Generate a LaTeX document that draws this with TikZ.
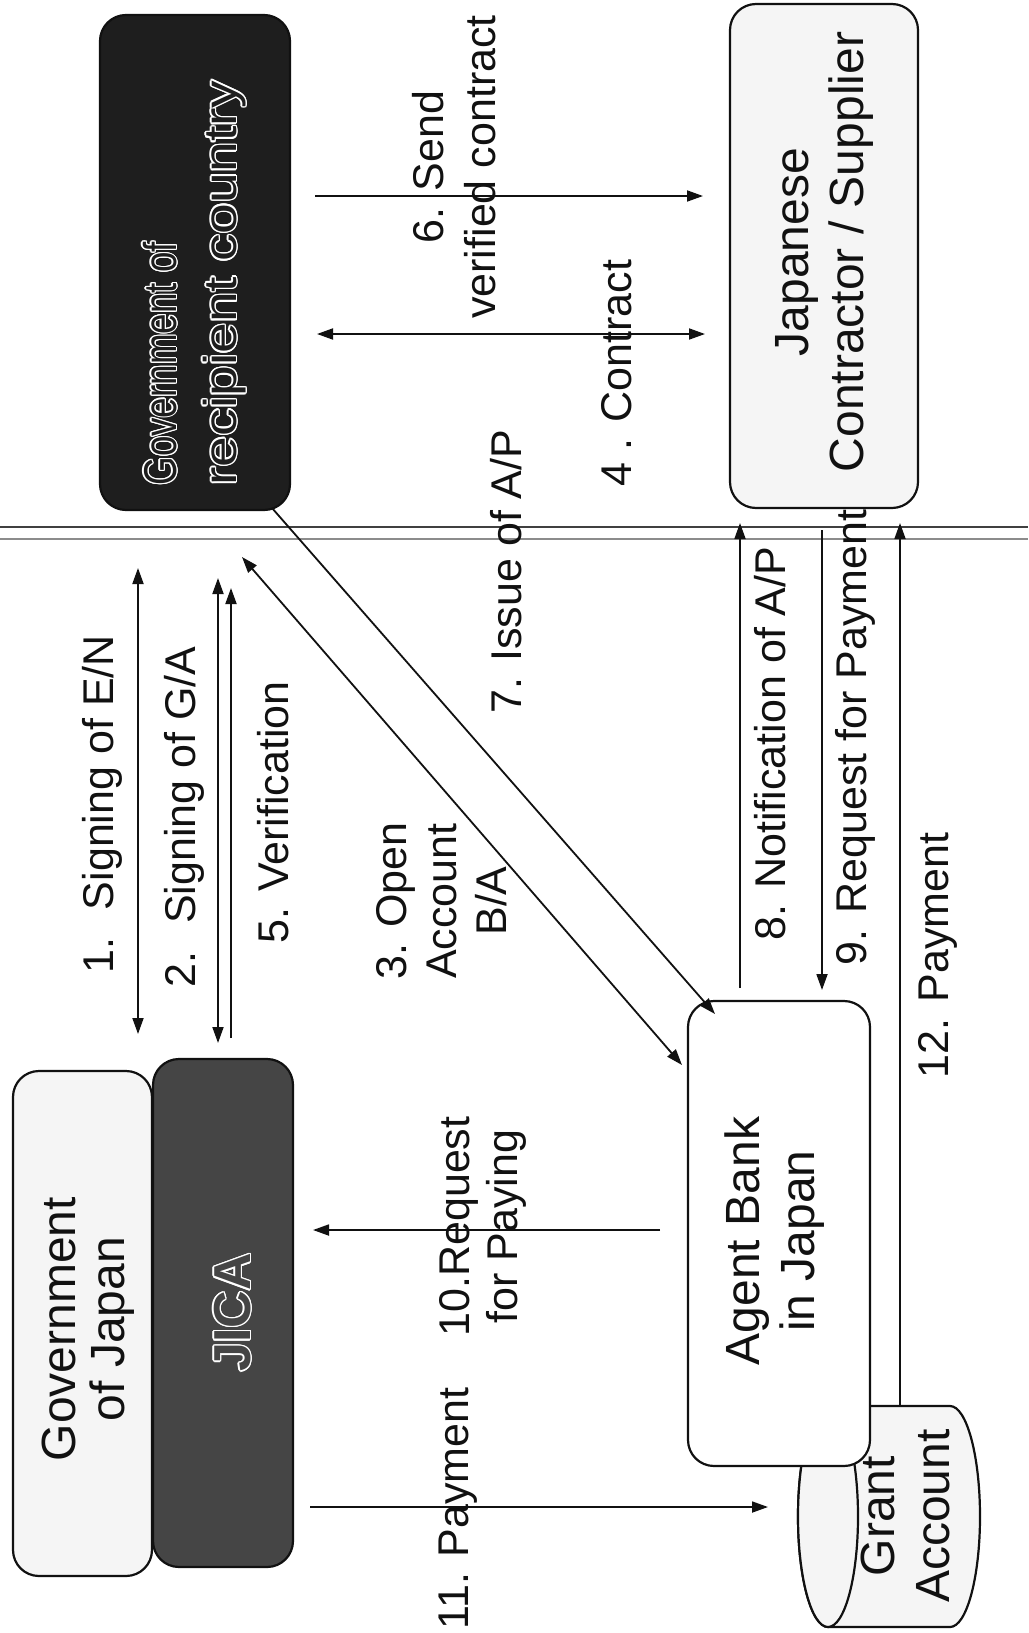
\documentclass[tikz,border=0pt]{standalone}
\usepackage{fontspec}
\setmainfont{Liberation Sans}
\usepackage{graphicx}
\usepackage{contour}
\contourlength{1.3pt}
\usetikzlibrary{arrows.meta}
\definecolor{govfill}{HTML}{1E1E1E}
\definecolor{jicafill}{HTML}{454545}
\definecolor{lightfill}{HTML}{F5F5F5}
\definecolor{inkc}{HTML}{111111}
\begin{document}
\begin{tikzpicture}[x=1pt,y=-1pt,
  lbl/.style={rotate=90, inner sep=0pt, align=center, text=inkc, font=\fontsize{43}{50}\selectfont},
  boxtxt/.style={rotate=90, inner sep=0pt, align=center, text=inkc, font=\fontsize{48}{55}\selectfont},
  rbox/.style={draw=inkc, line width=2.2pt, rounded corners=26pt, inner sep=0pt},
  cyl/.style={draw=inkc, line width=2.2pt, fill=lightfill},
  arr/.style={draw=inkc, line width=1.8pt, -{Triangle[length=16pt,width=11pt]}},
  darr/.style={draw=inkc, line width=1.8pt, {Triangle[length=16pt,width=11pt]}-{Triangle[length=16pt,width=11pt]}},
  sepa/.style={draw=black!75, line width=1.6pt},
  sepb/.style={draw=black!45, line width=1.2pt}
]
\useasboundingbox (0,0) rectangle (1028,1633);
\fill[white] (0,0) rectangle (1028,1633);

% separator lines
\draw[sepa] (0,527) -- (1028,527);
\draw[sepb] (0,539) -- (1028,539);

% boxes
\node[rbox, fill=govfill, minimum width=190pt, minimum height=495pt] (govR) at (195,262.5) {};
\node[rbox, fill=lightfill, minimum width=188pt, minimum height=504pt] (jpc) at (824,256) {};
\node[rbox, fill=lightfill, minimum width=139pt, minimum height=505pt] (gj) at (82.5,1323.5) {};
\node[rbox, fill=jicafill, minimum width=140pt, minimum height=508pt] (jica) at (223,1313) {};

% grant account cylinder
\path[cyl] (828,1406) -- (950,1406)
  arc[start angle=-90, end angle=90, x radius=30, y radius=110.5]
  -- (828,1627)
  arc[start angle=90, end angle=270, x radius=30, y radius=110.5] -- cycle;
\draw[cyl] (828,1516.5) ellipse [x radius=30, y radius=110.5];

\node[rbox, fill=white, minimum width=182pt, minimum height=465pt] (bank) at (779,1233.5) {};

% box texts
\node[rotate=90, inner sep=0pt, align=left, font=\fontsize{46}{60}\selectfont] (govRt) at (195,283)
  {\scalebox{0.8}[1]{\contour{white}{\textcolor{govfill}{Government of}}}\\
   \scalebox{1.2}[1]{\contour{white}{\textcolor{govfill}{recipient country}}}};
\node[boxtxt] (jpct) at (824,252) {Japanese\\Contractor / Supplier};
\node[boxtxt, font=\fontsize{48}{49}\selectfont] (gjt) at (88,1329) {Government\\of Japan};
\node[rotate=90, inner sep=0pt, font=\bfseries\fontsize{52}{55}\selectfont] (jicat) at (233,1312.5)
  {\contour{white}{\textcolor{jicafill}{JICA}}};
\node[boxtxt] (bankt) at (775,1241) {Agent Bank\\in Japan};
\node[boxtxt] (grantt) at (905,1516) {Grant\\Account};

% labels
\node[lbl] (l1) at (102.5,804.5) {1.~ Signing of E/N};
\node[lbl] (l2) at (184,817) {2.~ Signing of G/A};
\node[lbl] (l5) at (273.5,812.5) {5. Verification};
\node[lbl] (l3) at (441.5,901) {3. Open\\Account\\B/A};
\node[lbl] (l7) at (506,571.5) {7. Issue of A/P};
\node[lbl, font=\fontsize{43}{52}\selectfont] (l6) at (454,167) {6. Send\\verified contract};
\node[lbl] (l4) at (617,373) {4 . Contract};
\node[lbl] (l8) at (770,743.5) {8. Notification of A/P};
\node[lbl] (l9) at (855,737.5) {9. Request for Payment};
\node[lbl] (l12) at (937.5,955.5) {12. Payment};
\node[lbl, font=\fontsize{43}{48}\selectfont] (l10) at (482.5,1226.5) {10.Request\\for Paying};
\node[lbl] (l11) at (458,1508.5) {11. Payment};

% connector end points
\coordinate (a1t) at (138,568);  \coordinate (a1b) at (138,1034);
\coordinate (a2t) at (218,578);  \coordinate (a2b) at (218,1043);
\coordinate (a5t) at (231,588);  \coordinate (a5b) at (231,1038);
\coordinate (a3t) at (242,557);  \coordinate (a3b) at (682,1065);
\coordinate (a7s) at (272,508);  \coordinate (a7e) at (715,1014);
\coordinate (a6s) at (315,196);  \coordinate (a6e) at (703,196);
\coordinate (a4s) at (317,334);  \coordinate (a4e) at (705,334);
\coordinate (a8s) at (740,988);  \coordinate (a8e) at (740,523);
\coordinate (a9s) at (822,530);  \coordinate (a9e) at (822,990);
\coordinate (a12s) at (900,1406); \coordinate (a12e) at (900,523);
\coordinate (a10s) at (660,1230); \coordinate (a10e) at (313,1230);
\coordinate (a11s) at (310,1507); \coordinate (a11e) at (768,1507);

% connectors
\draw[darr] (a1t) -- (a1b);
\draw[darr] (a2t) -- (a2b);
\draw[arr] (a5b) -- (a5t);
\draw[darr] (a3t) -- (a3b);
\draw[arr] (a7s) -- (a7e);
\draw[arr] (a6s) -- (a6e);
\draw[darr] (a4s) -- (a4e);
\draw[arr] (a8s) -- (a8e);
\draw[arr] (a9s) -- (a9e);
\draw[arr] (a12s) -- (a12e);
\draw[arr] (a10s) -- (a10e);
\draw[arr] (a11s) -- (a11e);
\end{tikzpicture}
\end{document}
